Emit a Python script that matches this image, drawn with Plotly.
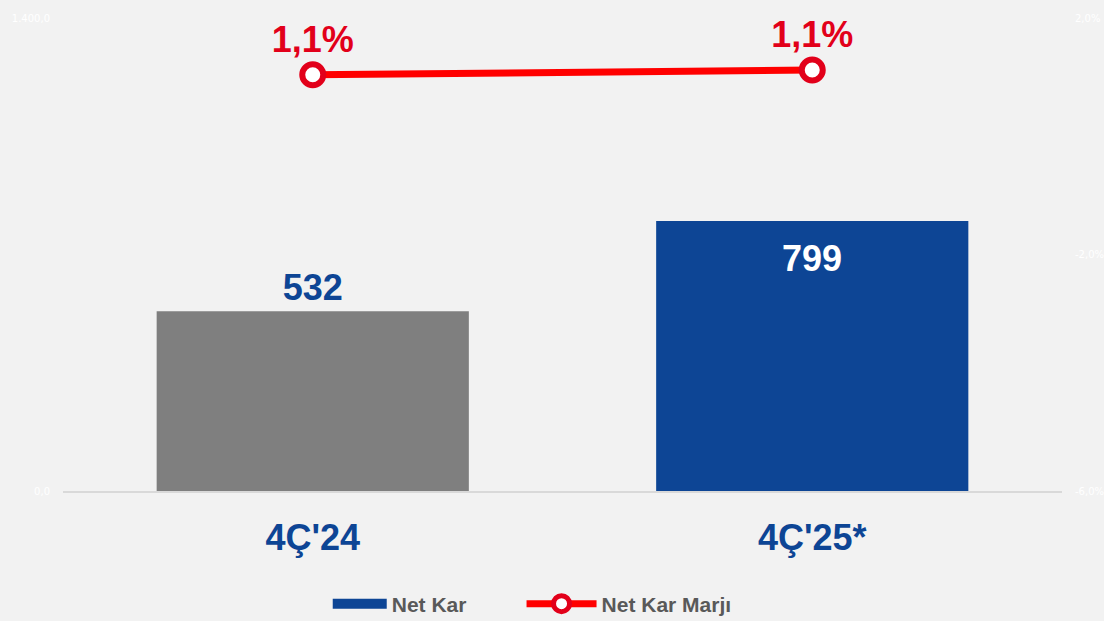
import plotly.graph_objects as go

categories = ["4Ç'24", "4Ç'25*"]
net_kar = [532, 799]
net_kar_labels = ["532", "799"]
marj = [1.04, 1.12]
marj_labels = ["1,1%", "1,1%"]
left_ticks = [0, 1400]
left_ticktext = ["0,0", "1.400,0"]
right_ticks = [-6, -2, 2]
right_ticktext = ["-6,0%", "-2,0%", "2,0%"]

BLUE = "#0D4595"
GRAY = "#7F7F7F"
RED = "#FF0000"
DARKRED = "#E2001A"
BG = "#F2F2F2"
FONT = "Liberation Sans, Arial, sans-serif"
BIG = 36

fig = go.Figure()

fig.add_trace(go.Bar(
    x=categories, y=net_kar, name="Net Kar",
    marker=dict(color=[GRAY, BLUE], line=dict(width=0)),
    width=0.625,
    text=net_kar_labels,
    textposition=["outside", "none"],
    textangle=0,
    cliponaxis=False,
    outsidetextfont=dict(family=FONT, size=BIG, color=BLUE, weight="bold"),
    showlegend=False,
))

# label of the second bar, placed inside near its top
fig.add_annotation(
    x=categories[1], y=net_kar[1], xref="x", yref="y",
    text=net_kar_labels[1], showarrow=False,
    yanchor="middle", yshift=-37,
    font=dict(family=FONT, size=BIG, color="white", weight="bold"),
)

# legend-only entry for the bar series (blue swatch)
fig.add_trace(go.Scatter(
    x=[None], y=[None], name="Net Kar", mode="lines",
    line=dict(color=BLUE, width=14), showlegend=True, legend="legend",
))

fig.add_trace(go.Scatter(
    x=categories, y=marj, name="Net Kar Marjı", yaxis="y2",
    mode="lines+markers+text",
    line=dict(color=RED, width=7),
    marker=dict(symbol="circle", size=21, color="white",
                line=dict(color=DARKRED, width=6)),
    text=marj_labels, textposition="top center",
    textfont=dict(family=FONT, size=BIG, color=DARKRED, weight="bold"),
    cliponaxis=False, legend="legend2",
))

legend_common = dict(
    orientation="h", yanchor="middle", y=-0.239, xanchor="left",
    font=dict(family=FONT, size=21, color="#595959", weight="bold"),
    bgcolor="rgba(0,0,0,0)",
)

fig.update_layout(
    width=1104, height=621,
    paper_bgcolor=BG, plot_bgcolor=BG,
    margin=dict(l=63, r=42, t=18, b=130, autoexpand=False),
    font=dict(family=FONT),
    barmode="overlay",
    xaxis=dict(
        showgrid=False, zeroline=False,
        showline=True, linecolor="#D9D9D9", linewidth=2,
        ticks="", ticklabelstandoff=14,
        tickfont=dict(family=FONT, size=BIG, color=BLUE, weight="bold"),
        automargin=False,
    ),
    yaxis=dict(
        range=[0, 1400], showgrid=False, zeroline=False,
        tickvals=left_ticks, ticktext=left_ticktext,
        tickfont=dict(family="DejaVu Sans", size=10, color="white"),
        ticklabelstandoff=12, automargin=False,
    ),
    yaxis2=dict(
        range=[-6, 2], overlaying="y", side="right",
        showgrid=False, zeroline=False,
        tickvals=right_ticks, ticktext=right_ticktext,
        tickfont=dict(family="DejaVu Sans", size=10, color="white"),
        ticklabelstandoff=12, automargin=False,
    ),
    legend=dict(legend_common, x=0.265, itemwidth=54),
    legend2=dict(legend_common, x=0.459, itemwidth=70),
)

fig.write_html(
    "out.html",
    config={"displayModeBar": False},
    post_script="document.body.style.margin='0';document.body.style.overflow='hidden';",
)
